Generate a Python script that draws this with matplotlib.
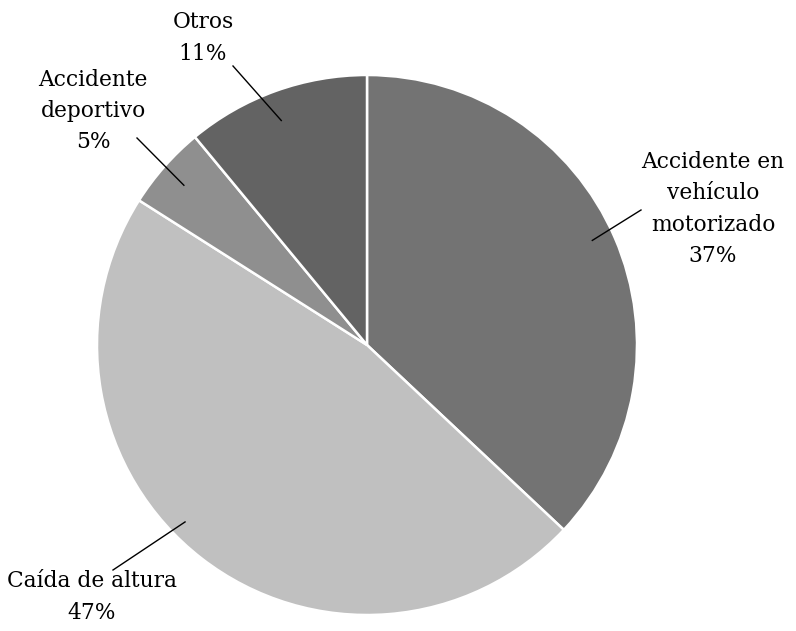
import matplotlib.pyplot as plt
import numpy as np

labels = ["Accidente en\nvehículo\nmotorizado", "Caída de altura", "Accidente\ndeportivo", "Otros"]
pcts = [37, 47, 5, 11]
colors = ["#737373", "#c0c0c0", "#8f8f8f", "#636363"]

# label block centres and leader-line outer ends (pixel layout, y up)
text_pos = [(713, 422), (92, 34), (93, 520), (203, 593)]
line_end = [(641, 421), (113, 61), (137, 493), (233, 565)]
# where the leader touches the wedge: angle shift from mid (deg), radius fraction
lead_shift = [1.5, -8.0, 0.3, 1.1]
lead_r = [0.92, 0.94, 0.90, 0.89]

cx, cy, R = 367, 286, 270

fig = plt.figure(figsize=(7.96, 6.31), dpi=100)
ax = fig.add_axes([0, 0, 1, 1])

wedges, _ = ax.pie(pcts, colors=colors, startangle=90, counterclock=False,
                   center=(cx, cy), radius=R,
                   wedgeprops=dict(edgecolor="white", linewidth=1.8))

ax.set_xlim(0, 796)
ax.set_ylim(0, 631)
ax.set_aspect("equal")
ax.axis("off")

for i, w in enumerate(wedges):
    mid = np.deg2rad((w.theta1 + w.theta2) / 2 + lead_shift[i])
    x0 = cx + lead_r[i] * R * np.cos(mid)
    y0 = cy + lead_r[i] * R * np.sin(mid)
    ax.plot([x0, line_end[i][0]], [y0, line_end[i][1]], color="black", lw=1)
    ax.text(text_pos[i][0], text_pos[i][1], labels[i] + "\n" + str(pcts[i]) + "%",
            ha="center", va="center", fontsize=15.7, family="DejaVu Serif",
            linespacing=1.55)

fig.savefig("out.png", dpi=100)
